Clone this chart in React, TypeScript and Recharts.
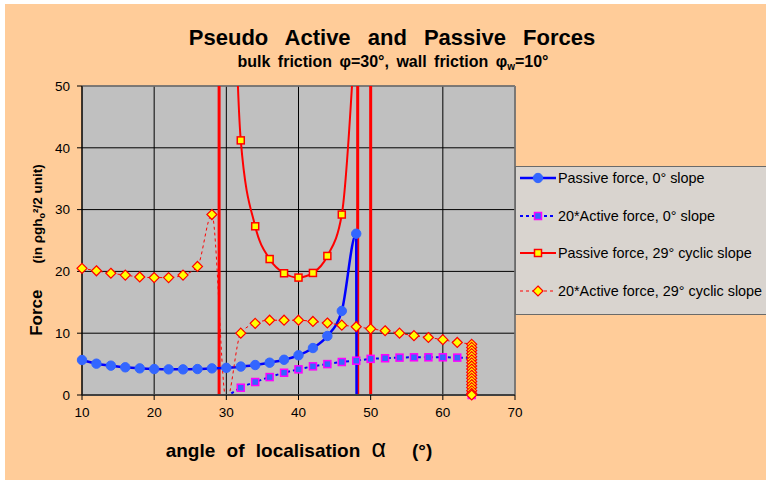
import {
  CartesianGrid, ComposedChart, Line, ReferenceLine, Scatter, XAxis, YAxis,
} from "recharts";

const xTicks = [10, 20, 30, 40, 50, 60, 70];
const yTicks = [0, 10, 20, 30, 40, 50];
const asymptotes = [29, 48.2, 50];

const passive0Alpha = [10, 12, 14, 16, 18, 20, 22, 24, 26, 28, 30, 32, 34, 36, 38, 40, 42, 44, 46, 48, 48.15];
const passive0Force = [5.66, 5.07, 4.75, 4.48, 4.31, 4.2, 4.15, 4.15, 4.2, 4.31, 4.4, 4.6, 4.85, 5.23, 5.7, 6.42, 7.6, 9.55, 13.6, 26.1, -60];

const active0Alpha = [30, 32, 34, 36, 38, 40, 42, 44, 46, 48, 50, 52, 54, 56, 58, 60, 62, 64, 64];
const active0Force = [-0.3, 1.18, 2.1, 2.9, 3.6, 4.15, 4.64, 5.0, 5.34, 5.55, 5.85, 5.95, 6.05, 6.1, 6.1, 6.1, 6.05, 6.0, 0];

const passive29Alpha = [30, 32, 34, 36, 38, 40, 42, 44, 46, 48];
const passive29Force = [130, 41.2, 27.3, 22.0, 19.7, 19.0, 19.75, 22.5, 29.2, 62];

const active29Alpha = [
  10, 12, 14, 16, 18, 20, 22, 24, 26, 28, 30, 32, 34, 36, 38, 40, 42, 44, 46, 48, 50, 52, 54, 56, 58, 60, 62,
  64, 64, 64, 64, 64, 64, 64, 64, 64, 64, 64, 64, 64, 64, 64, 64, 64, 64,
];
const active29Force = [
  20.5, 20.1, 19.7, 19.4, 19.1, 19.0, 19.0, 19.4, 20.8, 29.2, -1.0, 10.0, 11.6, 12.1, 12.1, 12.1, 11.9, 11.65,
  11.3, 11.05, 10.7, 10.4, 10.0, 9.6, 9.3, 8.95, 8.5,
  8.2, 7.7, 7.2, 6.7, 6.2, 5.7, 5.2, 4.7, 4.2, 3.7, 3.2, 2.7, 2.2, 1.7, 1.2, 0.7, 0.25, 0,
];

type Pt = { x: number; y: number };
const toPoints = (xs: number[], ys: number[]): Pt[] => xs.map((x, i) => ({ x, y: ys[i] }));
const inPlot = (p: Pt) => p.y >= 0 && p.y <= 50;

const passive0 = toPoints(passive0Alpha, passive0Force);
const active0 = toPoints(active0Alpha, active0Force);
const passive29 = toPoints(passive29Alpha, passive29Force);
const active29 = toPoints(active29Alpha, active29Force);

const FONT = "Arial, 'Liberation Sans', sans-serif";

type MP = { cx?: number; cy?: number };

const BlueCircle = ({ cx = 0, cy = 0 }: MP) => <circle cx={cx} cy={cy} r={4.7} fill="#3366FF" stroke="#3366FF" />;
const MagentaSquare = ({ cx = 0, cy = 0 }: MP) => (
  <rect x={cx - 3.5} y={cy - 3.5} width={7} height={7} fill="#3366FF" stroke="#FF00FF" strokeWidth={1.5} />
);
const YellowSquare = ({ cx = 0, cy = 0 }: MP) => (
  <rect x={cx - 3.5} y={cy - 3.5} width={7} height={7} fill="#FFFF00" stroke="#FF0000" strokeWidth={1.5} />
);
const Diamond = ({ cx = 0, cy = 0 }: MP) => (
  <path d={`M${cx},${cy - 5}L${cx + 5},${cy}L${cx},${cy + 5}L${cx - 5},${cy}Z`} fill="#FFFF00" stroke="#FF0000" strokeWidth={1.2} />
);

const series = [
  { name: "Passive force, 0° slope", data: passive0, stroke: "#0000FF", width: 2.5, dash: undefined, Marker: BlueCircle },
  { name: "20*Active force, 0° slope", data: active0, stroke: "#0000FF", width: 2, dash: "3 3", Marker: MagentaSquare },
  { name: "Passive force, 29° cyclic slope", data: passive29, stroke: "#FF0000", width: 2, dash: undefined, Marker: YellowSquare },
  { name: "20*Active force, 29° cyclic slope", data: active29, stroke: "#FF0000", width: 1, dash: "3 3", Marker: Diamond },
];

function LegendBox() {
  return (
    <div style={{
      position: "absolute", left: 510, top: 162, width: 260, height: 149, background: "#D9D4CF",
      border: "1.5px solid #6a6a6a", boxSizing: "border-box", overflow: "hidden", fontFamily: FONT, fontSize: 14.4,
    }}>
      {series.map((s, i) => (
        <div key={s.name} style={{ position: "absolute", left: 2, top: 2 + i * 37.5, height: 18, display: "flex", alignItems: "center", whiteSpace: "nowrap" }}>
          <svg width={40} height={16}>
            <line x1={2} x2={38} y1={8} y2={8} stroke={s.stroke} strokeWidth={s.width} strokeDasharray={s.dash} />
            <s.Marker cx={20} cy={8} />
          </svg>
          <span style={{ marginLeft: 0, color: "#000" }}>{s.name}</span>
        </div>
      ))}
    </div>
  );
}

export default function App() {
  return (
    <div style={{ position: "absolute", left: 5, top: 4, width: 761, height: 476, background: "#FFCC99", overflow: "hidden" }}>
      <ComposedChart width={761} height={476} margin={{ top: 82, right: 251, bottom: 55, left: 37 }}>
        <CartesianGrid yAxisId="f" stroke="#000" fill="#C0C0C0" fillOpacity={1} />
        <XAxis
          type="number" dataKey="x" domain={[10, 70]} ticks={xTicks} height={30} tickSize={5} tickMargin={7}
          tick={{ fontSize: 13.5, fill: "#000", fontFamily: FONT }} axisLine={{ stroke: "#404040", strokeWidth: 2 }}
          tickLine={{ stroke: "#000" }}
        />
        <YAxis
          yAxisId="f" type="number" domain={[0, 50]} ticks={yTicks} allowDataOverflow width={40} tickSize={5} tickMargin={7}
          tick={{ fontSize: 13.5, fill: "#000", fontFamily: FONT }} axisLine={{ stroke: "#000" }} tickLine={{ stroke: "#000" }}
        />
        <YAxis yAxisId="m" type="number" domain={[0, 50]} hide />
        <ReferenceLine yAxisId="f" y={50} stroke="#808080" strokeWidth={1.5} />
        <ReferenceLine yAxisId="f" x={70} stroke="#808080" strokeWidth={1.5} />
        {asymptotes.map((a) => (
          <ReferenceLine key={a} yAxisId="f" x={a} stroke="#FF0000" strokeWidth={3} />
        ))}
        {series.flatMap((s) => [
          <Line
            key={s.name + "-line"} yAxisId="f" data={s.data} dataKey="y" type="monotone" stroke={s.stroke}
            strokeWidth={s.width} strokeDasharray={s.dash} dot={false} activeDot={false} isAnimationActive={false}
          />,
          <Scatter
            key={s.name + "-marks"} yAxisId="m" data={s.data.filter(inPlot)} dataKey="y"
            shape={(p: MP) => <s.Marker cx={p.cx} cy={p.cy} />} isAnimationActive={false}
          />,
        ])}
      </ComposedChart>

      <svg width={761} height={476} style={{ position: "absolute", left: 0, top: 0, pointerEvents: "none" }} fontFamily={FONT}>
        <text x={387} y={41} textAnchor="middle" fontSize={22} fontWeight="bold" wordSpacing={11}>
          Pseudo Active and Passive Forces
        </text>
        <text x={388} y={63} textAnchor="middle" fontSize={16} fontWeight="bold" wordSpacing={3}>
          bulk friction φ=30°, wall friction φ<tspan fontSize={10} dy={3}>w</tspan><tspan dy={-3}>=10°</tspan>
        </text>
        <text x={294} y={453} textAnchor="middle" fontSize={19} fontWeight="bold" wordSpacing={6}>
          angle of localisation <tspan fontSize={25} fontWeight="normal">α</tspan><tspan dx={26}>(°)</tspan>
        </text>
        <text transform="translate(37,246) rotate(-90)" textAnchor="middle" fontWeight="bold">
          <tspan fontSize={17}>Force</tspan>
          <tspan fontSize={13.5} dx={26}>(in ρgh</tspan>
          <tspan fontSize={9} dy={3}>o</tspan>
          <tspan fontSize={13.5} dy={-3}>²/2  unit)</tspan>
        </text>
      </svg>

      <LegendBox />
    </div>
  );
}
